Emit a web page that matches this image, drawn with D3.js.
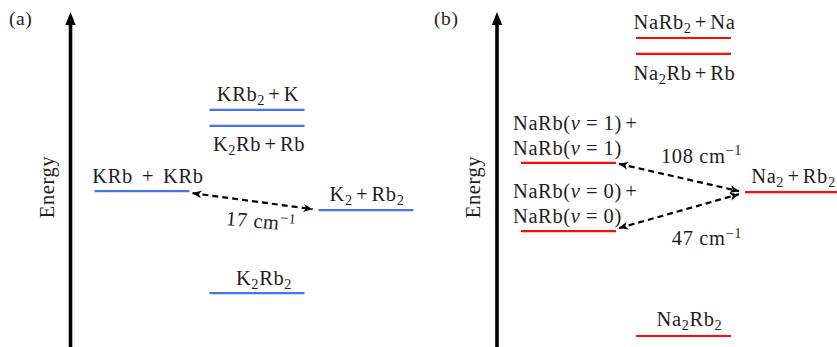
<!DOCTYPE html>
<html>
<head>
<meta charset="utf-8">
<script src="https://cdn.jsdelivr.net/npm/d3@7"></script>
<style>
  html, body { margin: 0; padding: 0; background: #fff; }
  svg { display: block; }
  text { font-family: "Liberation Serif", "DejaVu Serif", serif; fill: #1e1e1e; letter-spacing: 0.6px; }
</style>
</head>
<body>
<svg id="chart" width="837" height="347"></svg>
<script>
// ---- Panel (a): KRb + KRb reaction channels (relative energies, arbitrary units) ----
const aLabels    = ["KRb_2+K", "K_2Rb+Rb", "KRb + KRb", "K_2+Rb_2", "K_2Rb_2"];
const aEnergy    = [71.2, 66.4, 46.8, 41.1, 16.2];
const aColumn    = ["mid", "mid", "left", "right", "mid"];
const aGapFrom   = ["KRb + KRb"];
const aGapTo     = ["K_2+Rb_2"];
const aGapCm     = [17];

// ---- Panel (b): NaRb + NaRb reaction channels ----
const bLabels    = ["NaRb_2+Na", "Na_2Rb+Rb", "NaRb(*v*=1)+|NaRb(*v*=1)", "NaRb(*v*=0)+|NaRb(*v*=0)", "Na_2+Rb_2", "Na_2Rb_2"];
const bEnergy    = [92.8, 88.0, 55.3, 34.8, 46.5, 3.3];
const bColumn    = ["mid", "mid", "left", "left", "right", "mid"];
const bGapFrom   = ["NaRb(*v*=1)+|NaRb(*v*=1)", "NaRb(*v*=0)+|NaRb(*v*=0)"];
const bGapTo     = ["Na_2+Rb_2", "Na_2+Rb_2"];
const bGapCm     = [108, 47];

const panelTags  = ["(a)", "(b)"];
const axisTitle  = "Energy";

const W = 837, H = 347;
const FS = 20.5;
const svg = d3.select("#chart");

// Energy axis: arbitrary units mapped onto the drawing height
const y = d3.scaleLinear().domain([0, 100]).range([H, 14]);
// Column offsets (from the energy axis) for the three level positions
const col = d3.scaleOrdinal().domain(["left", "mid", "right"]).range([24, 139, 248]);
const levelWidth = 95;

// arrowhead used on both ends of the dashed transitions
const defs = svg.append("defs");
defs.append("marker")
  .attr("id", "tip")
  .attr("viewBox", "-1 -5 12 10")
  .attr("refX", 9).attr("refY", 0)
  .attr("markerUnits", "userSpaceOnUse")
  .attr("markerWidth", 12).attr("markerHeight", 10)
  .attr("orient", "auto-start-reverse")
  .append("path")
  .attr("d", "M0,-4 L9,0 L0,4 L2.5,0 Z")
  .attr("fill", "#000");

// Minimal markup: _x subscript, ^{..} superscript, *..* italic, + and = get operator spacing
function richText(sel, str, fs) {
  const tokens = [];
  let i = 0;
  while (i < str.length) {
    const c = str[i];
    if (c === "_") { tokens.push({ t: str[i + 1], sub: true }); i += 2; }
    else if (c === "^") { const j = str.indexOf("}", i); tokens.push({ t: str.slice(i + 2, j), sup: true }); i = j + 1; }
    else if (c === "*") { const j = str.indexOf("*", i + 1); tokens.push({ t: str.slice(i + 1, j), it: true }); i = j + 1; }
    else if (c === "+" || c === "=") { tokens.push({ t: c, op: true }); i++; }
    else {
      let j = i;
      while (j < str.length && !"_^*+=".includes(str[j])) j++;
      tokens.push({ t: str.slice(i, j) }); i = j;
    }
  }
  let shift = 0, pending = 0;
  tokens.forEach(tk => {
    const ts = sel.append("tspan").text(tk.t);
    const target = tk.sub ? fs * 0.2 : tk.sup ? -fs * 0.36 : 0;
    const dy = target - shift; shift = target;
    if (dy) ts.attr("dy", dy);
    if (tk.sub || tk.sup) ts.attr("font-size", fs * 0.7);
    if (tk.it) ts.attr("font-style", "italic");
    let dx = pending; pending = 0;
    if (tk.op) {
      const gap = tk.t === "=" ? fs * 0.27 : fs * 0.16;
      dx += gap; pending = gap;
    }
    if (dx) ts.attr("dx", dx);
  });
  return sel;
}

function drawPanel(opt) {
  const g = svg.append("g");
  const ax = opt.axisX;

  // panel tag
  g.append("text").attr("x", opt.tagX).attr("y", 25).attr("font-size", 19.5).text(opt.tag);

  // energy arrow
  g.append("line")
    .attr("x1", ax).attr("x2", ax).attr("y1", H).attr("y2", 22)
    .attr("stroke", "#000").attr("stroke-width", 3.6);
  g.append("path")
    .attr("d", d3.line()([[ax, 12], [ax + 5.2, 25], [ax - 5.2, 25]]) + "Z")
    .attr("fill", "#000");
  g.append("text")
    .attr("transform", `translate(${ax - 17},187) rotate(-90)`)
    .attr("text-anchor", "middle").attr("font-size", 20.5)
    .text(axisTitle);

  const levels = opt.labels.map((lab, i) => {
    const x0 = ax + col(opt.column[i]);
    return { lab, x0, x1: x0 + levelWidth, y: y(opt.energy[i]), i };
  });
  const byLabel = new Map(levels.map(d => [d.lab, d]));

  g.selectAll("line.level").data(levels).join("line")
    .attr("class", "level")
    .attr("x1", d => d.x0).attr("x2", d => d.x1)
    .attr("y1", d => d.y).attr("y2", d => d.y)
    .attr("stroke", opt.color).attr("stroke-width", 2.2);

  levels.forEach(d => {
    const place = opt.place(d);
    const lines = d.lab.split("|");
    lines.forEach((ln, k) => {
      const t = g.append("text")
        .attr("x", place.x + (place.dx || 0))
        .attr("y", place.y + k * 25)
        .attr("text-anchor", place.anchor)
        .attr("font-size", FS);
      richText(t, ln, FS);
    });
  });

  // dashed transitions with their energy gaps
  opt.gapFrom.forEach((f, k) => {
    const a = byLabel.get(f), b = byLabel.get(opt.gapTo[k]);
    const p0 = [a.x1 + 3, a.y + opt.startDy[k]];
    const p1 = [b.x0 - 6, b.y + opt.endDy[k]];
    g.append("path")
      .attr("d", d3.line()([p0, p1]))
      .attr("fill", "none").attr("stroke", "#000")
      .attr("stroke-width", 2.2).attr("stroke-dasharray", "6,4")
      .attr("marker-start", "url(#tip)").attr("marker-end", "url(#tip)");
    const lp = opt.gapLabel(p0, p1, k);
    const t = g.append("text")
      .attr("text-anchor", lp.anchor)
      .attr("transform", `translate(${lp.x},${lp.y}) rotate(${lp.rot || 0})`)
      .attr("font-size", FS);
    richText(t, `${opt.gapCm[k]} cm^{\u22121}`, FS);
  });
}

// panel (a)
drawPanel({
  tag: panelTags[0], tagX: 9, axisX: 70.5, color: "#4474f2",
  labels: aLabels, energy: aEnergy, column: aColumn,
  gapFrom: aGapFrom, gapTo: aGapTo, gapCm: aGapCm,
  startDy: [2], endDy: [-1],
  place: d => {
    const cx = (d.x0 + d.x1) / 2;
    if (d.lab === "K_2Rb+Rb") return { x: cx, y: d.y + 25, anchor: "middle", dx: 2 };
    if (d.lab === "KRb + KRb") return { x: cx, y: d.y - 8, anchor: "middle", dx: 6 };
    if (d.lab === "K_2Rb_2") return { x: cx, y: d.y - 8, anchor: "middle", dx: 7 };
    return { x: cx, y: d.y - 9, anchor: "middle", dx: 1 };
  },
  gapLabel: (p0, p1) => ({ x: (p0[0] + p1[0]) / 2 + 8, y: (p0[1] + p1[1]) / 2 + 27, anchor: "middle", rot: 5 })
});

// panel (b)
drawPanel({
  tag: panelTags[1], tagX: 434, axisX: 497, color: "#ff0a0a",
  labels: bLabels, energy: bEnergy, column: bColumn,
  gapFrom: bGapFrom, gapTo: bGapTo, gapCm: bGapCm,
  startDy: [1, -3], endDy: [-1, 2],
  place: d => {
    const cx = (d.x0 + d.x1) / 2;
    if (d.lab.includes("|")) return { x: d.x0 - 8, y: d.y - 33, anchor: "start" };
    if (d.lab === "Na_2Rb+Rb") return { x: cx, y: d.y + 26, anchor: "middle", dx: 1 };
    if (d.lab === "Na_2Rb_2") return { x: cx, y: d.y - 10, anchor: "middle", dx: 6 };
    return { x: cx, y: d.y - 9, anchor: "middle", dx: 1 };
  },
  gapLabel: (p0, p1, k) => (k === 0
    ? { x: p1[0] + 3, y: p0[1] - 1, anchor: "end" }
    : { x: p1[0] + 3, y: p0[1] + 17, anchor: "end" })
});
</script>
</body>
</html>
